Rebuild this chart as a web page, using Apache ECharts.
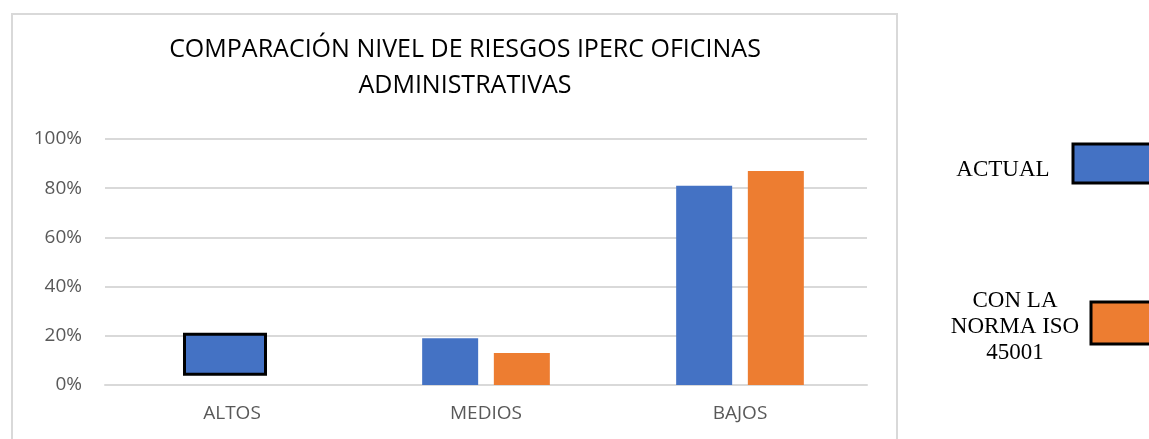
<!DOCTYPE html>
<html>
<head>
<meta charset="utf-8">
<script src="https://cdn.jsdelivr.net/npm/echarts@6/dist/echarts.min.js"></script>
<style>
  html, body { margin: 0; padding: 0; background: #fff; }
  #chart { width: 1149px; height: 439px; }
</style>
</head>
<body>
<div id="chart"></div>
<script>
// Risk levels compared: current state vs. with ISO 45001
const categories = ['ALTOS', 'MEDIOS', 'BAJOS'];
const seriesNames = ['ACTUAL', 'CON LA\nNORMA ISO\n45001'];
const actual = [21, 19, 81];
const withIso = [0, 13, 87];
const altosBoxFloor = 4;       // lower edge of the outlined ALTOS box (%)
const yTicks = [0, 20, 40, 60, 80, 100];

const BLUE = '#4472C4';
const ORANGE = '#ED7D31';
const GRID = '#d9d9d9';
const LABEL = '#595959';

const chart = echarts.init(document.getElementById('chart'));

const option = {
  animation: false,
  backgroundColor: '#ffffff',
  title: {
    text: 'COMPARACIÓN NIVEL DE RIESGOS IPERC OFICINAS\nADMINISTRATIVAS',
    left: 460,
    top: 27,
    textAlign: 'center',
    textStyle: {
      fontFamily: 'Open Sans',
      fontSize: 25,
      fontWeight: 'normal',
      color: '#000000',
      lineHeight: 36
    }
  },
  grid: { left: 105, right: 282, top: 139, bottom: 54, containLabel: false },
  xAxis: {
    type: 'category',
    data: categories,
    axisLine: { show: true, lineStyle: { color: GRID, width: 2 } },
    axisTick: { show: false },
    axisLabel: { color: LABEL, fontFamily: 'Open Sans', fontSize: 19, margin: 19 }
  },
  yAxis: {
    type: 'value',
    min: yTicks[0],
    max: yTicks[yTicks.length - 1],
    interval: yTicks[1] - yTicks[0],
    axisLine: { show: false },
    axisTick: { show: false },
    splitLine: { lineStyle: { color: GRID, width: 2 } },
    axisLabel: {
      color: LABEL, fontFamily: 'Open Sans', fontSize: 19, margin: 23,
      formatter: v => v + '%'
    }
  },
  series: [
    {
      name: 'ACTUAL',
      type: 'bar',
      barWidth: 56,
      barGap: '28%',
      itemStyle: { color: BLUE },
      // the ALTOS value is shown by the outlined box below
      data: actual.map((v, i) => i === 0 ? { value: v, itemStyle: { opacity: 0 } } : v)
    },
    {
      name: 'CON LA NORMA ISO 45001',
      type: 'bar',
      barWidth: 56,
      itemStyle: { color: ORANGE },
      data: withIso
    },
    {
      type: 'custom',
      name: 'ALTOS box',
      z: 5,
      data: [[0, actual[0], altosBoxFloor]],
      renderItem: function (params, api) {
        const top = api.coord([api.value(0), api.value(1)]);
        const bottom = api.coord([api.value(0), api.value(2)]);
        const w = 81;
        const cx = top[0] - 7;
        return {
          type: 'rect',
          shape: { x: cx - w / 2, y: top[1] + 1, width: w, height: bottom[1] - top[1] - 2 },
          style: { fill: BLUE, stroke: '#000000', lineWidth: 3 }
        };
      }
    }
  ],
  graphic: [
    // chart frame
    {
      type: 'polyline',
      shape: { points: [[12, 439], [12, 14], [897, 14], [897, 439]] },
      style: { stroke: GRID, lineWidth: 2, fill: null }
    },
    // key on the right
    {
      type: 'rect',
      shape: { x: 1073, y: 144, width: 90, height: 39 },
      style: { fill: BLUE, stroke: '#000000', lineWidth: 3 }
    },
    {
      type: 'text',
      style: {
        text: seriesNames[0], x: 1003, y: 170,
        align: 'center', verticalAlign: 'middle',
        font: '23px "Liberation Serif"', fill: '#000000'
      }
    },
    {
      type: 'rect',
      shape: { x: 1091, y: 302, width: 80, height: 42 },
      style: { fill: ORANGE, stroke: '#000000', lineWidth: 3 }
    },
    {
      type: 'text',
      style: {
        text: seriesNames[1], x: 1015, y: 327,
        align: 'center', verticalAlign: 'middle',
        font: '23px "Liberation Serif"', lineHeight: 26, fill: '#000000'
      }
    }
  ]
};

chart.setOption(option);
</script>
</body>
</html>
